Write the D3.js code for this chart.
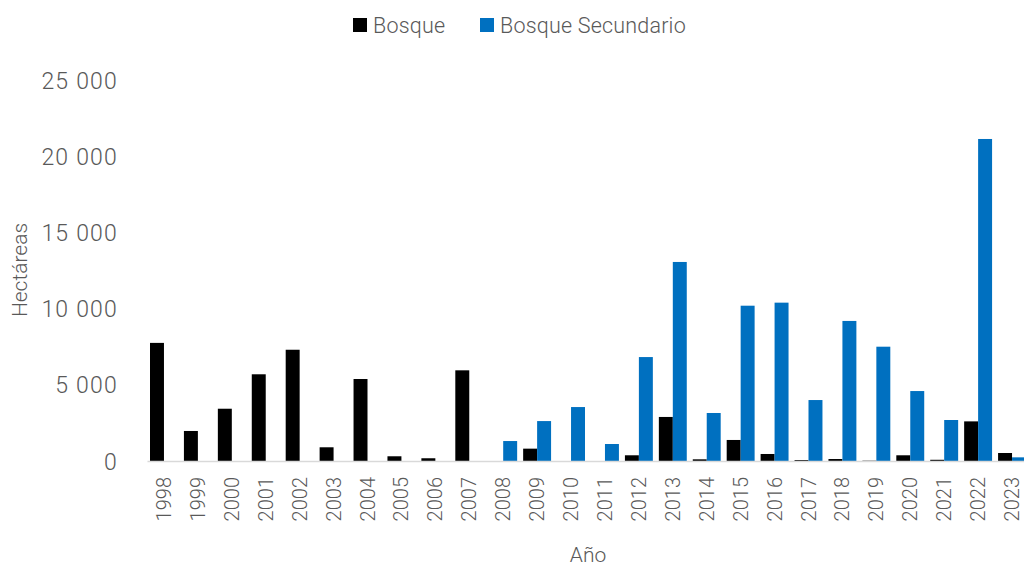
<!DOCTYPE html>
<html>
<head>
<meta charset="utf-8">
<script src="https://cdn.jsdelivr.net/npm/d3@7"></script>
<style>
  body { margin: 0; background: #fff; }
  text { font-family: Roboto, "Liberation Sans", sans-serif; font-weight: 300; fill: #595959; }
</style>
</head>
<body>
<svg id="chart" width="1024" height="566"></svg>
<script>
const years = ["1998","1999","2000","2001","2002","2003","2004","2005","2006","2007","2008","2009","2010",
               "2011","2012","2013","2014","2015","2016","2017","2018","2019","2020","2021","2022","2023"];
const bosque = [7750, 1970, 3430, 5690, 7300, 900, 5380, 310, 180, 5950, 0, 810, 0,
                0, 375, 2890, 110, 1380, 460, 60, 130, 20, 375, 80, 2600, 525];
const bosqueSecundario = [0, 0, 0, 0, 0, 0, 0, 0, 0, 0, 1310, 2620, 3540,
                          1115, 6820, 13060, 3150, 10190, 10390, 4000, 9190, 7500, 4590, 2690, 21130, 240];
const yTicks = [0, 5000, 10000, 15000, 20000, 25000];
const seriesNames = ["Bosque", "Bosque Secundario"];
const seriesColors = ["#000000", "#0070C0"];

const svg = d3.select("#chart");
const margin = { left: 147, right: -5, top: 80, bottom: 105 };
const w = 1024, h = 566;

const x0 = d3.scaleBand().domain(years).range([margin.left, w - margin.right]).padding(0);
const x1 = d3.scaleBand().domain([0, 1]).range([3, x0.bandwidth() - 3]).padding(0);
const y = d3.scaleLinear().domain([0, 25000]).range([h - margin.bottom, margin.top]);

const fmt = d => d3.format(",")(d).replace(/,/g, " ");

// y axis labels
const yAxis = d3.axisLeft(y).tickValues(yTicks).tickFormat(fmt).tickSize(0).tickPadding(0);
svg.append("g")
    .attr("transform", "translate(118,0)")
    .call(yAxis)
    .call(g => g.select(".domain").remove())
    .selectAll("text")
    .attr("font-size", 23)
    .attr("font-family", "Roboto, sans-serif")
    .attr("fill", "#595959")
    .attr("letter-spacing", 1.2)
    .attr("dy", "0.35em");

// bars
const rows = years.map((yr, i) => ({ year: yr, vals: [bosque[i], bosqueSecundario[i]] }));
const groups = svg.append("g").selectAll("g")
    .data(rows).enter().append("g")
    .attr("transform", d => `translate(${x0(d.year)},0)`);
groups.selectAll("rect")
    .data(d => d.vals.map((v, k) => ({ k, v })))
    .enter().append("rect")
    .attr("x", d => x1(d.k))
    .attr("width", x1.bandwidth())
    .attr("y", d => y(d.v))
    .attr("height", d => y(0) - y(d.v))
    .attr("fill", d => seriesColors[d.k]);

// x axis
const xAxis = d3.axisBottom(x0).tickSize(0).tickPadding(0);
svg.append("g")
    .attr("transform", `translate(0,${y(0)})`)
    .call(xAxis)
    .call(g => g.select(".domain").attr("stroke", "#D9D9D9").attr("stroke-width", 1.5))
    .selectAll("text")
    .attr("font-size", 20)
    .attr("font-family", "Roboto, sans-serif")
    .attr("fill", "#595959")
    .attr("text-anchor", "end")
    .attr("transform", "rotate(-90)")
    .attr("x", -16)
    .attr("y", 0)
    .attr("dy", "0.35em");

// axis titles
svg.append("text")
    .attr("x", 588).attr("y", 562)
    .attr("text-anchor", "middle")
    .attr("font-size", 21)
    .text("Año");
svg.append("text")
    .attr("transform", "translate(27,270) rotate(-90)")
    .attr("text-anchor", "middle")
    .attr("font-size", 21)
    .text("Hectáreas");

// legend
const legendX = [353, 480];
const legend = svg.append("g").selectAll("g")
    .data(seriesNames).enter().append("g")
    .attr("transform", (d, i) => `translate(${legendX[i]},18)`);
legend.append("rect")
    .attr("width", 14).attr("height", 14)
    .attr("fill", (d, i) => seriesColors[i]);
legend.append("text")
    .attr("x", 20).attr("y", 7).attr("dy", "0.35em")
    .attr("font-size", 21.5)
    .attr("letter-spacing", 0.2)
    .text(d => d);
</script>
</body>
</html>
